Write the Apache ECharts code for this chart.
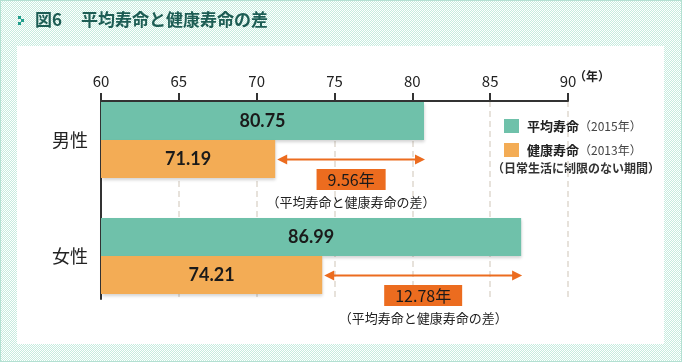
<!DOCTYPE html>
<html>
<head>
<meta charset="utf-8">
<script src="https://cdn.jsdelivr.net/npm/echarts@6/dist/echarts.min.js"></script>
<style>
html,body{margin:0;padding:0;background:#fff;}
#wrap{position:relative;width:682px;height:362px;box-sizing:border-box;border:1px solid #b3e0d2;
  background:repeating-conic-gradient(#c6ecdf 0 25%, #ffffff 0 50%) 0 0/2px 2px;}
#panel{position:absolute;left:16px;top:45px;width:647px;height:298px;background:#fff;}
#c{position:absolute;left:-1px;top:-1px;width:682px;height:362px;}
</style>
</head>
<body>
<div id="wrap"><div id="panel"></div><div id="c"></div></div>
<script>
// ---- data ----
var categories = ['男性', '女性'];
var avgLife = [80.75, 86.99];      // 平均寿命 (2015年)
var healthLife = [71.19, 74.21];   // 健康寿命 (2013年)
var gaps = [9.56, 12.78];
var seriesNames = ['平均寿命', '健康寿命'];
var seriesYears = ['（2015年）', '（2013年）'];
var xMin = 60, xMax = 90, xStep = 5;
var titleNo = '図6';
var titleText = '平均寿命と健康寿命の差';
var gapNote = '（平均寿命と健康寿命の差）';
var legendNote = '（日常生活に制限のない期間）';
var unitLabel = '（年）';

var JP = '"Noto Sans CJK JP", sans-serif';
var GREEN = '#6fc1aa', ORANGE = '#f3ac55', ARROW = '#ec6c1f', AXIS = '#333333';

var chart = echarts.init(document.getElementById('c'), null, {renderer: 'canvas'});

var gapData = categories.map(function (c, i) { return [healthLife[i], avgLife[i], i, gaps[i]]; });

var option = {
  animation: false,
  backgroundColor: 'transparent',
  graphic: [
    {type: 'rect', shape: {x: 18, y: 16, width: 3, height: 3}, style: {fill: '#1f9e8c'}},
    {type: 'rect', shape: {x: 21, y: 19, width: 3, height: 3}, style: {fill: '#1f9e8c'}},
    {type: 'rect', shape: {x: 18, y: 22, width: 3, height: 3}, style: {fill: '#1f9e8c'}},
    {type: 'text', left: 35, top: 11, style: {text: titleNo, font: 'bold 17px ' + JP, fill: '#1d5d54'}},
    {type: 'text', left: 81, top: 11, style: {text: titleText, font: 'bold 17px ' + JP, fill: '#1d5d54'}},
    {type: 'text', left: 574, top: 70, style: {text: unitLabel, font: 'bold 12px ' + JP, fill: '#222'}},
    {type: 'text', left: 492, top: 162, style: {text: legendNote, font: 'bold 12px ' + JP, fill: '#333'}}
  ],
  legend: {
    orient: 'vertical',
    left: 499, top: 114,
    itemWidth: 15, itemHeight: 14, itemGap: 10,
    icon: 'rect',
    data: seriesNames,
    formatter: function (name) {
      var i = seriesNames.indexOf(name);
      return '{b|' + name + '}{y|' + seriesYears[i] + '}';
    },
    textStyle: {
      padding: [0, 0, 0, 3],
      rich: {
        b: {fontSize: 13, fontWeight: 'bold', fontFamily: JP, color: '#222'},
        y: {fontSize: 12, fontWeight: 'normal', fontFamily: JP, color: '#444'}
      }
    }
  },
  grid: [
    {left: 101, width: 467, top: 101, height: 198},
    {left: 101, width: 467, top: 82, height: 232}
  ],
  xAxis: [
    {
      gridIndex: 0, type: 'value', position: 'top', min: xMin, max: xMax, interval: xStep,
      axisLine: {show: true, onZero: false, lineStyle: {color: AXIS, width: 2}},
      axisTick: {show: true, length: 8, lineStyle: {color: AXIS, width: 2}},
      axisLabel: {fontSize: 15, color: '#222', margin: 12, fontFamily: JP},
      splitLine: {show: true, lineStyle: {type: [6, 4], color: '#e7e2db', width: 2}}
    },
    {
      gridIndex: 1, type: 'value', min: xMin, max: xMax, interval: xStep, show: false,
      splitLine: {show: false}
    }
  ],
  yAxis: [
    {
      gridIndex: 0, type: 'value', min: 0, max: 1,
      axisLine: {show: true, onZero: false, lineStyle: {color: AXIS, width: 2}},
      axisTick: {show: false}, axisLabel: {show: false}, splitLine: {show: false}
    },
    {
      gridIndex: 1, type: 'category', data: categories, inverse: true,
      axisLine: {show: false}, axisTick: {show: false},
      axisLabel: {fontSize: 18, color: '#222', margin: 13, fontFamily: JP}
    }
  ],
  series: [
    {
      name: seriesNames[0], type: 'bar', xAxisIndex: 1, yAxisIndex: 1,
      data: avgLife, barWidth: 38, barGap: '0%', z: 3,
      itemStyle: {color: GREEN, shadowColor: 'rgba(0,0,0,0.18)', shadowBlur: 3, shadowOffsetY: 2, shadowOffsetX: 1},
      label: {show: true, position: 'inside', formatter: function (p) { return p.value.toFixed(2); },
        fontSize: 18, fontWeight: 'bold', color: '#1a1a1a', fontFamily: 'Lato, sans-serif'}
    },
    {
      name: seriesNames[1], type: 'bar', xAxisIndex: 1, yAxisIndex: 1,
      data: healthLife, barWidth: 38, barGap: '0%', z: 3,
      itemStyle: {color: ORANGE, shadowColor: 'rgba(0,0,0,0.18)', shadowBlur: 3, shadowOffsetY: 2, shadowOffsetX: 1},
      label: {show: true, position: 'inside', formatter: function (p) { return p.value.toFixed(2); },
        fontSize: 18, fontWeight: 'bold', color: '#1a1a1a', fontFamily: 'Lato, sans-serif'}
    },
    {
      type: 'custom', xAxisIndex: 1, yAxisIndex: 1, z: 5, clip: false,
      data: gapData,
      renderItem: function (params, api) {
        var h = api.value(0), a = api.value(1), idx = api.value(2), g = api.value(3);
        var p1 = api.coord([h, idx]);
        var p2 = api.coord([a, idx]);
        var y = Math.round(p1[1] + 19) + 0.5;
        var x1 = p1[0] + 2, x2 = p2[0] + 1;
        var mid = (x1 + x2) / 2;
        return {
          type: 'group',
          children: [
            {type: 'line', shape: {x1: x1 + 6, y1: y, x2: x2 - 6, y2: y}, style: {stroke: ARROW, lineWidth: 2}},
            {type: 'polygon', shape: {points: [[x1, y], [x1 + 10, y - 5], [x1 + 10, y + 5]]}, style: {fill: ARROW}},
            {type: 'polygon', shape: {points: [[x2, y], [x2 - 10, y - 5], [x2 - 10, y + 5]]}, style: {fill: ARROW}},
            {type: 'text', x: mid, y: y + 20, style: {
              text: g.toFixed(2) + '年', fill: '#1a1a1a', font: 'normal 16px ' + JP,
              align: 'center', verticalAlign: 'middle', backgroundColor: ARROW, padding: [3, 11, 2, 11]}},
            {type: 'text', x: mid, y: y + 43, style: {
              text: gapNote, fill: '#222', font: 'normal 13px ' + JP,
              align: 'center', verticalAlign: 'middle'}}
          ]
        };
      }
    }
  ]
};
chart.setOption(option);
</script>
</body>
</html>
